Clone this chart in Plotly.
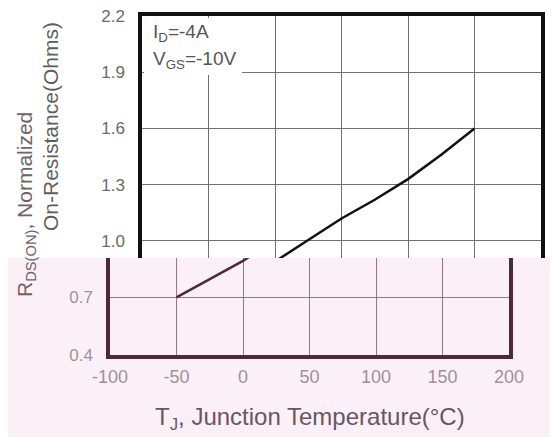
import plotly.graph_objects as go

# ---- data ----
temp_c = [-50, 0, 25, 50, 75, 100, 125, 150]
rds_norm = [0.70, 0.89, 1.005, 1.12, 1.22, 1.33, 1.46, 1.60]

x_ticks = [-100, -50, 0, 50, 100, 150, 200]
x_tick_labels = ["-100", "-50", "0", "50", "100", "150", "200"]
y_ticks_upper = [1.0, 1.3, 1.6, 1.9, 2.2]
y_labels_upper = ["1.0", "1.3", "1.6", "1.9", "2.2"]
y_ticks_lower = [0.4, 0.7]
y_labels_lower = ["0.4", "0.7"]

# the page body has an 8px margin, so the figure is sized to fill the window
OFF = 8
W, H = 558 - OFF, 437 - OFF
FONT = "Liberation Sans, Arial, sans-serif"


def px(x):
    return (x - OFF) / W


def py(y):
    return 1 - (y - OFF) / H


fig = go.Figure()
# upper part of the chart (white region)
fig.add_trace(go.Scatter(x=temp_c, y=rds_norm, mode="lines",
                         line=dict(color="#111111", width=2.5),
                         xaxis="x", yaxis="y", showlegend=False, hoverinfo="skip"))
# lower part of the chart (pink region)
fig.add_trace(go.Scatter(x=temp_c, y=rds_norm, mode="lines",
                         line=dict(color="#4d2a38", width=2.5),
                         xaxis="x2", yaxis="y2", showlegend=False, hoverinfo="skip"))

common = dict(showgrid=True, zeroline=False, ticks="", gridwidth=1.2,
              automargin=False, layer="above traces", ticklabeloverflow="allow")

fig.update_layout(
    width=W, height=H,
    margin=dict(l=0, r=0, t=0, b=0, pad=0),
    paper_bgcolor="white",
    plot_bgcolor="rgba(0,0,0,0)",
    font=dict(family=FONT),
    showlegend=False,
    xaxis=dict(domain=[px(142), px(541)], range=[-100, 200], anchor="y",
               tickmode="array", tickvals=x_ticks, showticklabels=False,
               gridcolor="#707070", showline=True, linecolor="#111111",
               linewidth=3.5, side="top", mirror=False, **common),
    yaxis=dict(domain=[py(258), py(16)], range=[0.909, 2.2005], anchor="x",
               tickmode="array", tickvals=y_ticks_upper, ticktext=y_labels_upper,
               tickfont=dict(size=17, color="#6a6a6a"), ticklabelstandoff=10,
               gridcolor="#707070", showline=True, linecolor="#111111",
               linewidth=3.5, mirror=True, **common),
    xaxis2=dict(domain=[px(110), px(509)], range=[-100, 200], anchor="y2",
                tickmode="array", tickvals=x_ticks, ticktext=x_tick_labels,
                tickfont=dict(size=18, color="#a0909a"), ticklabelstandoff=3,
                gridcolor="#9a7484", showline=True, linecolor="#4d2a38",
                linewidth=3.5, mirror=False, **common),
    yaxis2=dict(domain=[py(355), py(258)], range=[0.4, 0.905], anchor="x2",
                tickmode="array", tickvals=y_ticks_lower, ticktext=y_labels_lower,
                tickfont=dict(size=17, color="#a0909a"), ticklabelstandoff=10,
                gridcolor="#9a7484", showline=True, linecolor="#4d2a38",
                linewidth=3.5, mirror=True, **common),
    shapes=[
        dict(type="rect", xref="paper", yref="paper", x0=0, x1=1,
             y0=0, y1=py(258), fillcolor="#fcf0f8", line=dict(width=0),
             layer="below"),
        dict(type="rect", xref="paper", yref="paper", x0=px(144), x1=px(242),
             y0=py(75), y1=py(18), fillcolor="white", line=dict(width=0),
             layer="above"),
    ],
    annotations=[
        dict(text="I<sub>D</sub>=-4A", xref="paper", yref="paper",
             x=px(151), y=py(33), xanchor="left", yanchor="middle",
             showarrow=False, font=dict(size=19, color="#555555")),
        dict(text="V<sub>GS</sub>=-10V", xref="paper", yref="paper",
             x=px(151), y=py(60), xanchor="left", yanchor="middle",
             showarrow=False, font=dict(size=19, color="#555555")),
        dict(text="On-Resistance(Ohms)", xref="paper", yref="paper",
             x=px(50), y=py(127), xanchor="center", yanchor="middle",
             textangle=-90, showarrow=False,
             font=dict(size=21, color="#5e5e5e")),
        dict(text="R<sub>DS(ON)</sub>, Normalized", xref="paper", yref="paper",
             x=px(26), y=py(205), xanchor="center", yanchor="middle",
             textangle=-90, showarrow=False,
             font=dict(size=21, color="#6e6268")),
        dict(text="T<sub>J</sub>, Junction Temperature(°C)", xref="paper",
             yref="paper", x=px(310), y=py(418), xanchor="center",
             yanchor="middle", showarrow=False,
             font=dict(size=24, color="#6a5563")),
    ],
)

fig.write_html("out.html")
